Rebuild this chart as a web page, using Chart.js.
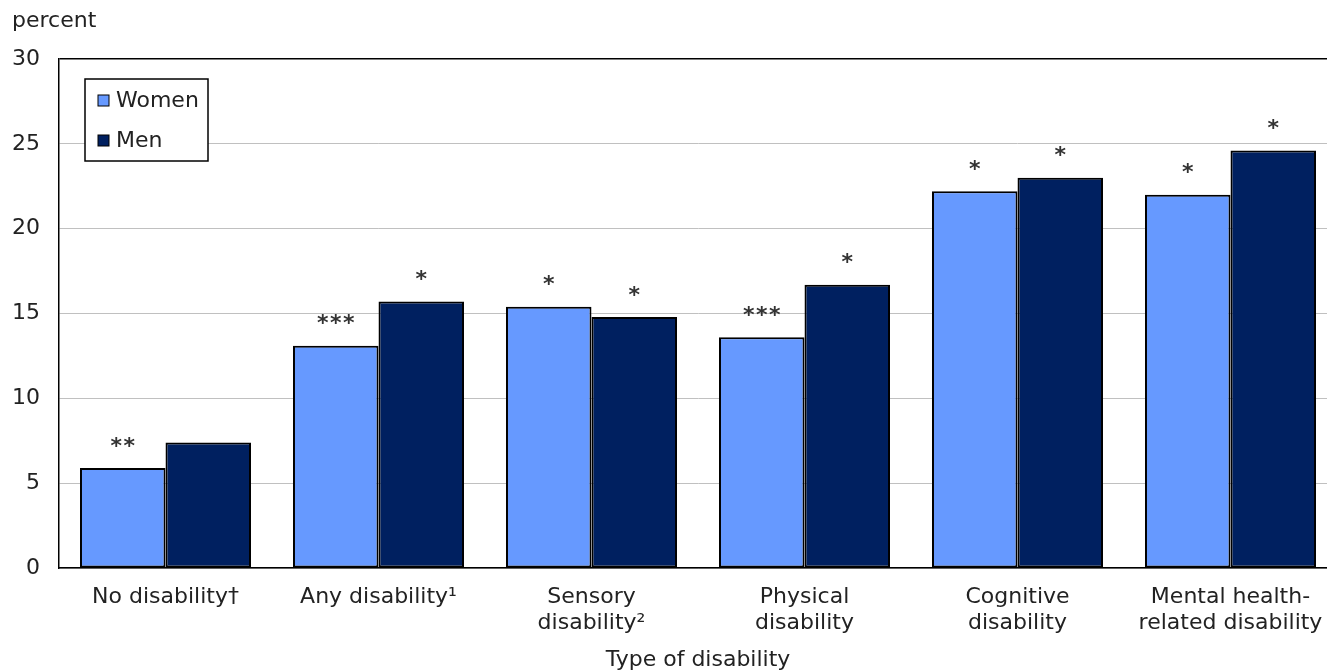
<!DOCTYPE html>
<html>
<head>
<meta charset="utf-8">
<script src="https://cdn.jsdelivr.net/npm/chart.js@4"></script>
<style>
  body { margin: 0; overflow: hidden; background: #fff; }
  #wrap { width: 1340px; height: 671px; }
</style>
</head>
<body>
<div id="wrap"><canvas id="chart" width="1340" height="671"></canvas></div>
<script>
// data
const categories = [
  ['No disability\u2020'],
  ['Any disability\u00b9'],
  ['Sensory', 'disability\u00b2'],
  ['Physical', 'disability'],
  ['Cognitive', 'disability'],
  ['Mental health-', 'related disability']
];
const women = [5.9, 13.1, 15.4, 13.6, 22.2, 22.0];
const men = [7.4, 15.7, 14.8, 16.7, 23.0, 24.6];
const womenStars = ['**', '***', '*', '***', '*', '*'];
const menStars = ['', '*', '*', '*', '*', '*'];
const yTicks = [0, 5, 10, 15, 20, 25, 30];

const FONT = 'DejaVu Sans, Verdana, sans-serif';
const stars = [womenStars, menStars];

// asterisks over bars, legend box and the "percent" label
const extras = {
  id: 'extras',
  afterDatasetsDraw(chart) {
    const ctx = chart.ctx;
    ctx.save();
    ctx.fillStyle = '#333';
    ctx.font = 'bold 22px ' + FONT;
    ctx.textAlign = 'center';
    ctx.textBaseline = 'middle';
    chart.data.datasets.forEach((ds, i) => {
      chart.getDatasetMeta(i).data.forEach((bar, j) => {
        const s = stars[i][j];
        const step = 13;
        for (let k = 0; k < s.length; k++) {
          const x = bar.x + (k - (s.length - 1) / 2) * step;
          ctx.fillText('*', x, bar.y - 21);
        }
      });
    });

    // legend
    ctx.fillStyle = '#fff';
    ctx.fillRect(85, 79, 123, 82);
    ctx.strokeStyle = '#000';
    ctx.lineWidth = 1.5;
    ctx.strokeRect(85, 79, 123, 82);
    ctx.font = '22px ' + FONT;
    ctx.textAlign = 'left';
    chart.data.datasets.forEach((ds, i) => {
      const y = 100 + i * 40;
      ctx.fillStyle = ds.backgroundColor;
      ctx.fillRect(98, y - 5, 11, 11);
      ctx.lineWidth = 1;
      ctx.strokeRect(98, y - 5, 11, 11);
      ctx.fillStyle = '#222';
      ctx.fillText(ds.label, 116, y + 1);
    });

    ctx.font = '22px ' + FONT;
    ctx.fillStyle = '#222';
    ctx.fillText('percent', 12, 21);
    ctx.restore();
  }
};

new Chart(document.getElementById('chart'), {
  type: 'bar',
  data: {
    labels: categories,
    datasets: [
      { label: 'Women', data: women, backgroundColor: '#6699ff', borderColor: '#000', borderWidth: 2, borderSkipped: false },
      { label: 'Men', data: men, backgroundColor: '#002060', borderColor: '#000', borderWidth: 2, borderSkipped: false }
    ]
  },
  options: {
    responsive: false,
    animation: false,
    devicePixelRatio: 1,
    layout: { padding: { top: 59, left: 0, right: 3, bottom: 0 } },
    categoryPercentage: 0.803,
    barPercentage: 1.0,
    plugins: { legend: { display: false }, tooltip: { enabled: false } },
    scales: {
      x: {
        grid: { display: false, drawTicks: false },
        border: { color: '#000', width: 1.5 },
        ticks: { color: '#222', font: { family: FONT, size: 22, lineHeight: '26px' }, padding: 16, maxRotation: 0, autoSkip: false },
        title: { display: true, text: 'Type of disability', color: '#222', font: { family: FONT, size: 22, lineHeight: '22px' }, padding: { top: 0, bottom: 0 } },
        afterFit(s) { s.height = 103; }
      },
      y: {
        min: 0,
        max: 30,
        afterBuildTicks(s) { s.ticks = yTicks.map(v => ({ value: v })); },
        grid: {
          drawTicks: false,
          color: c => (c.tick && c.tick.value === 30 ? '#000' : '#c0c0c0'),
          lineWidth: c => (c.tick && c.tick.value === 30 ? 1.5 : 1)
        },
        border: { color: '#000', width: 1.5 },
        ticks: { color: '#222', font: { family: FONT, size: 22 }, padding: 19 },
        afterFit(s) { s.width = 59; }
      }
    }
  },
  plugins: [extras]
});
</script>
</body>
</html>
